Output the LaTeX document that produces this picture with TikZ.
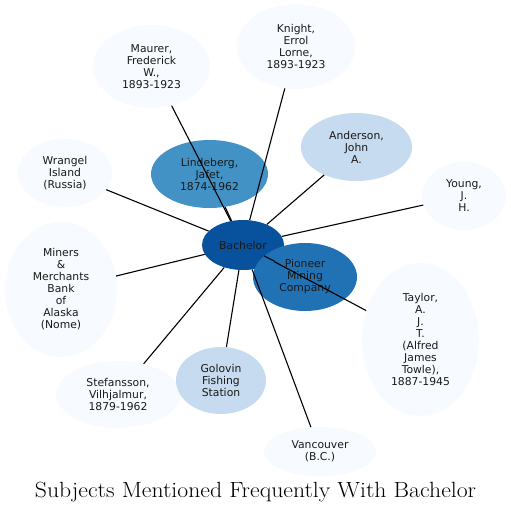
\documentclass[tikz,border=0pt]{standalone}
\usepackage{fontspec}
\newfontfamily\dejavu{DejaVu Sans}
\usetikzlibrary{shapes.geometric}
\definecolor{cA}{HTML}{F7FBFF}
\definecolor{cB}{HTML}{C6DBEF}
\definecolor{cC}{HTML}{4292C6}
\definecolor{cD}{HTML}{2171B5}
\definecolor{cE}{HTML}{08519C}
\tikzset{
  ell/.style={ellipse, inner sep=0pt, align=center, text=black!90,
    font=\dejavu\fontsize{10.8}{12}\selectfont},
  link/.style={draw=black, line width=1.1pt}
}
\newcommand{\ellnode}[6]{\node[ell, fill=#1, minimum width=#4, minimum height=#5] (#6) at (#2,#3)}
\begin{document}
\begin{tikzpicture}[x=1pt,y=-1pt]
\useasboundingbox (0,0) rectangle (511,512);
\fill[white] (0,0) rectangle (511,512);
\ellnode{cE}{243}{245}{82pt}{50pt}{bach} {Bachelor};
\ellnode{cD}{305}{277}{104pt}{68pt}{pion} {Pioneer\\Mining\\Company};
\ellnode{cC}{209.5}{174}{117pt}{68pt}{lind} {Lindeberg,\\Jafet,\\1874-1962};
\ellnode{cA}{151.5}{66.5}{117pt}{83pt}{maur} {Maurer,\\Frederick\\W.,\\1893-1923};
\ellnode{cA}{65}{173}{94pt}{68pt}{wran} {Wrangel\\Island\\(Russia)};
\ellnode{cA}{296}{46.5}{118pt}{85pt}{knig} {Knight,\\Errol\\Lorne,\\1893-1923};
\ellnode{cB}{356.5}{147}{111pt}{68pt}{ande} {Anderson,\\John\\A.};
\ellnode{cA}{464}{196}{84pt}{68pt}{youn} {Young,\\J.\\H.};
\ellnode{cA}{61}{289.5}{112pt}{135pt}{mine} {Miners\\\&\\Merchants\\Bank\\of\\Alaska\\(Nome)};
\ellnode{cA}{118}{394.5}{124pt}{67pt}{stef} {Stefansson,\\Vilhjalmur,\\1879-1962};
\ellnode{cB}{221}{380.5}{90pt}{67pt}{golo} {Golovin\\Fishing\\Station};
\ellnode{cA}{320}{451.5}{112pt}{49pt}{vanc} {Vancouver\\(B.C.)};
\ellnode{cA}{420.5}{339.5}{117pt}{153pt}{tayl} {Taylor,\\A.\\J.\\T.\\(Alfred\\James\\Towle),\\1887-1945};
\foreach \t in {pion,lind,maur,wran,knig,ande,youn,mine,stef,golo,vanc,tayl}
  \draw[link] (bach) -- (\t);
\node[font=\fontsize{22}{26}\selectfont, anchor=base, inner sep=0pt] (title) at (255.5,497.3) {\scalebox{1.078}[1]{Subjects Mentioned Frequently With Bachelor}};
\end{tikzpicture}
\end{document}
